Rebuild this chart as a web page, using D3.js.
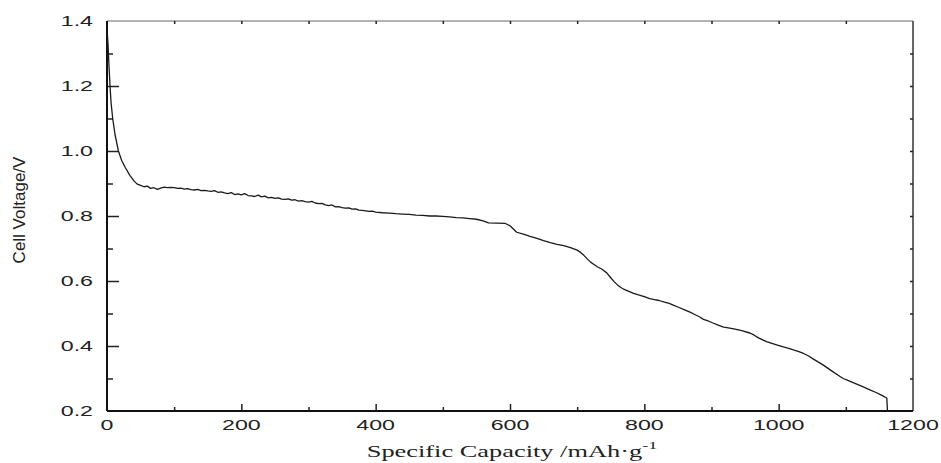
<!DOCTYPE html>
<html>
<head>
<meta charset="utf-8">
<script src="https://cdn.jsdelivr.net/npm/d3@7"></script>
<style>
  body { margin: 0; background: #fff; }
  svg { display: block; }
</style>
</head>
<body>
<div id="chart"></div>
<script>
var w = 941, h = 463;

// discharge curve
var capacity = [0.5, 1.5, 3, 4.5, 6, 8.5, 12, 17, 22, 27, 34,
  40, 45, 50, 55, 60, 65, 70, 75, 80, 85, 90, 95, 100, 105, 110, 115, 120, 125, 130, 135, 140, 145,
  150, 155, 160, 165, 170, 175, 180, 185, 190, 195, 200, 205, 210, 215, 220, 225, 230, 235, 240, 245,
  250, 255, 260, 265, 270, 275, 280, 285, 290, 295, 300, 305, 310, 315, 320, 325, 330, 335, 340, 345,
  350, 355, 360, 365, 370, 375, 380, 385, 390, 395, 400,
  410, 420, 430, 440, 450, 460, 470, 480, 490, 500, 510, 520, 530, 540, 550, 560, 568, 580, 593,
  600, 605, 610, 620, 630, 640, 650, 660, 670, 680, 690, 700, 705, 710, 715, 720, 725, 730, 737, 744,
  750, 755, 760, 765, 770, 777, 783, 790, 800, 808, 815, 822, 830, 837, 843, 850, 860, 868, 875, 882,
  888, 895, 903, 910, 918, 925, 935, 945, 957, 963, 970, 977, 983, 990, 998, 1007, 1015, 1022, 1030,
  1037, 1044, 1050, 1058, 1066, 1073, 1080, 1088, 1096, 1103, 1110, 1118, 1126, 1135, 1145, 1153,
  1161, 1162];
var voltage = [1.36, 1.33, 1.26, 1.20, 1.15, 1.10, 1.05, 1.00, 0.97, 0.95, 0.925,
  0.908, 0.898, 0.894, 0.890, 0.892, 0.885, 0.887, 0.882, 0.886, 0.889, 0.887, 0.888, 0.887, 0.885, 0.886, 0.883, 0.884, 0.881, 0.880, 0.882, 0.878, 0.879,
  0.877, 0.876, 0.878, 0.873, 0.874, 0.871, 0.869, 0.872, 0.866, 0.868, 0.865, 0.869, 0.863, 0.862, 0.860, 0.864, 0.859, 0.861, 0.856, 0.857,
  0.854, 0.856, 0.852, 0.851, 0.853, 0.849, 0.850, 0.846, 0.847, 0.844, 0.843, 0.845, 0.840, 0.838, 0.839, 0.834, 0.832, 0.834, 0.828, 0.829,
  0.826, 0.824, 0.825, 0.821, 0.822, 0.818, 0.817, 0.816, 0.814, 0.815, 0.812,
  0.810, 0.809, 0.807, 0.806, 0.805, 0.803, 0.802, 0.800, 0.800, 0.799, 0.797, 0.795, 0.794, 0.792, 0.790, 0.785, 0.779, 0.778, 0.777,
  0.770, 0.760, 0.750, 0.744, 0.737, 0.731, 0.724, 0.718, 0.713, 0.709, 0.703, 0.695, 0.688, 0.679, 0.668, 0.658, 0.651, 0.644, 0.636, 0.625,
  0.610, 0.598, 0.588, 0.580, 0.574, 0.568, 0.563, 0.558, 0.552, 0.546, 0.543, 0.540, 0.535, 0.531, 0.526, 0.520, 0.511, 0.504, 0.497, 0.490,
  0.482, 0.477, 0.470, 0.464, 0.458, 0.456, 0.452, 0.447, 0.440, 0.434, 0.425, 0.418, 0.413, 0.408, 0.403, 0.397, 0.393, 0.388, 0.383,
  0.377, 0.370, 0.362, 0.352, 0.342, 0.332, 0.322, 0.311, 0.300, 0.294, 0.288, 0.281, 0.274, 0.266, 0.257, 0.249,
  0.240, 0.200];

var xTicks = [0, 200, 400, 600, 800, 1000, 1200];
var yTicks = [0.2, 0.4, 0.6, 0.8, 1.0, 1.2, 1.4];

var svg = d3.select("#chart").append("svg")
    .attr("width", w)
    .attr("height", h);

var margin = {top: 21, right: 28, bottom: 52, left: 107},
    width = w - margin.left - margin.right,
    height = h - margin.top - margin.bottom;

var g = svg.append("g").attr("transform", "translate(" + margin.left + "," + margin.top + ")");

var x = d3.scaleLinear().domain([0, 1200]).range([0, width]);
var y = d3.scaleLinear().domain([0.2, 1.4]).range([height, 0]);

var data = capacity.map(function(c, i) { return {c: c, v: voltage[i]}; });

// frame
g.append("line").attr("x1", 0).attr("x2", width).attr("y1", 0).attr("y2", 0)
  .attr("stroke", "#999").attr("stroke-width", 1.5);
g.append("line").attr("x1", width).attr("x2", width).attr("y1", 0).attr("y2", height)
  .attr("stroke", "#333").attr("stroke-width", 1.5);

// bottom axis, ticks inward
g.append("g").attr("transform", "translate(0," + height + ")")
  .call(d3.axisBottom(x).tickValues(d3.range(100, 1200, 200)).tickSize(-4).tickFormat(""))
  .call(function(a) { a.select(".domain").remove(); });
g.append("g").attr("transform", "translate(0," + height + ")")
  .call(d3.axisBottom(x).tickValues(xTicks.slice(1, -1)).tickSize(-7).tickFormat(""))
  .call(function(a) { a.select(".domain").remove(); });

// left axis, ticks inward
g.append("g")
  .call(d3.axisLeft(y).tickValues(d3.range(0.3, 1.4, 0.2)).tickSize(-6).tickFormat(""))
  .call(function(a) { a.select(".domain").remove(); });
g.append("g")
  .call(d3.axisLeft(y).tickValues(yTicks.slice(1, -1)).tickSize(-12).tickFormat(""))
  .call(function(a) { a.select(".domain").remove(); });

// top and right small ticks
g.append("g")
  .call(d3.axisTop(x).tickValues(d3.range(100, 1200, 100)).tickSize(-3).tickFormat(""))
  .call(function(a) { a.select(".domain").remove(); });
g.append("g").attr("transform", "translate(" + width + ",0)")
  .call(d3.axisRight(y).tickValues(d3.range(0.3, 1.35, 0.1)).tickSize(-3).tickFormat(""))
  .call(function(a) { a.select(".domain").remove(); });

g.selectAll(".tick line").attr("stroke", "#222").attr("stroke-width", 1.5);

g.append("line").attr("x1", 0).attr("x2", 0).attr("y1", 0).attr("y2", height)
  .attr("stroke", "#111").attr("stroke-width", 2);
g.append("line").attr("x1", 0).attr("x2", width).attr("y1", height).attr("y2", height)
  .attr("stroke", "#111").attr("stroke-width", 2);

// tick labels (stretched wide like the source)
g.selectAll(".xlab").data(xTicks).enter().append("text")
  .attr("transform", function(d) { return "translate(" + x(d) + "," + (height + 19) + ") scale(1.6,1)"; })
  .attr("text-anchor", "middle")
  .style("font-family", "'Liberation Sans', Arial, sans-serif")
  .style("font-size", "14.5px")
  .attr("fill", "#222")
  .text(function(d) { return d; });

g.selectAll(".ylab").data(yTicks).enter().append("text")
  .attr("transform", function(d) { return "translate(-14," + (y(d) + 5) + ") scale(1.6,1)"; })
  .attr("text-anchor", "end")
  .style("font-family", "'Liberation Sans', Arial, sans-serif")
  .style("font-size", "14.5px")
  .attr("fill", "#222")
  .text(function(d) { return d.toFixed(1); });

// axis titles
var xt = svg.append("text")
  .attr("transform", "translate(" + (margin.left + width / 2 + 2) + "," + (h - 6) + ") scale(1.65,1)")
  .attr("text-anchor", "middle")
  .style("font-family", "'Liberation Serif', 'Times New Roman', serif")
  .style("font-size", "16px")
  .attr("fill", "#222");
xt.append("tspan").text("Specific Capacity /mAh\u00b7g");
xt.append("tspan").attr("dy", -8).style("font-size", "11px").text("-1");

svg.append("text")
  .attr("transform", "translate(25," + (margin.top + 189) + ") rotate(-90)")
  .attr("text-anchor", "middle")
  .style("font-family", "'Liberation Sans', Arial, sans-serif")
  .style("font-size", "17px")
  .attr("fill", "#222")
  .text("Cell Voltage/V");

// curve
var line = d3.line()
  .x(function(d) { return x(d.c); })
  .y(function(d) { return y(d.v); });

g.append("path")
  .datum(data)
  .attr("fill", "none")
  .attr("stroke", "#1a1a1a")
  .attr("stroke-width", 1.3)
  .attr("stroke-linejoin", "round")
  .attr("d", line);
</script>
</body>
</html>
